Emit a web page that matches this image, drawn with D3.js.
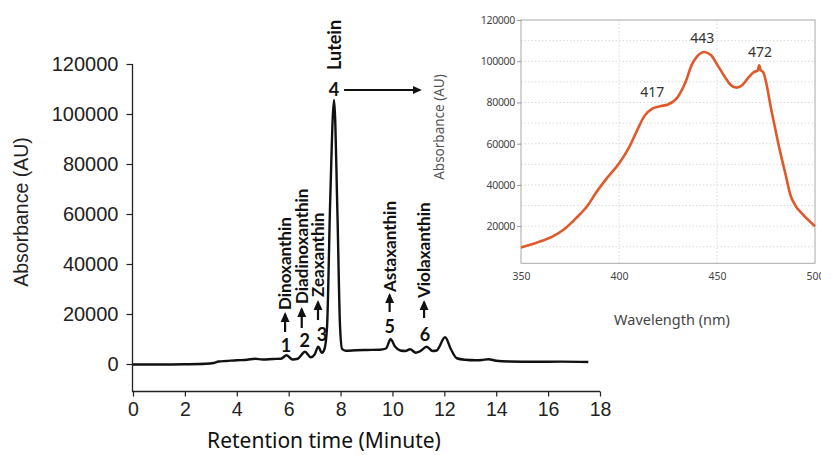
<!DOCTYPE html>
<html>
<head>
<meta charset="utf-8">
<script src="https://cdn.jsdelivr.net/npm/d3@7"></script>
<style>
  html, body { margin: 0; padding: 0; background: #ffffff; }
  svg { display: block; }
</style>
</head>
<body>
<svg id="chart" width="821" height="455"></svg>
<script>
// ---------- Data ----------
// Main chromatogram: retention time (min) and absorbance (AU)
const retentionTime = [0, 1, 2, 2.8, 3.1, 3.3, 3.6, 4.0, 4.4, 4.7, 5.0, 5.4, 5.7, 5.92, 6.15, 6.35, 6.63, 6.85, 7.0, 7.14, 7.28, 7.38, 7.48, 7.6, 7.75, 7.88, 7.98, 8.06, 8.2, 8.6, 9.0, 9.5, 9.75, 9.93, 10.1, 10.3, 10.5, 10.68, 10.9, 11.05, 11.32, 11.55, 11.7, 12.03, 12.25, 12.48, 12.8, 13.2, 13.45, 13.7, 14.0, 14.5, 15.5, 16.5, 17.55];
const absorbance    = [-200, -200, -100, 100, 400, 1000, 1200, 1500, 1700, 2100, 1800, 2000, 2100, 3500, 1800, 2100, 4900, 2700, 3800, 6900, 4500, 6000, 15000, 65000, 105600, 60000, 15000, 6000, 5300, 5500, 5600, 5700, 6200, 9900, 7000, 5400, 5200, 5900, 4500, 5000, 6900, 5200, 5400, 10700, 6000, 2300, 1700, 1500, 1600, 1900, 1300, 1000, 900, 950, 800];

// Peak annotations
const peakNumbers  = ["1", "2", "3", "4", "5", "6"];
const peakNames    = ["Dinoxanthin", "Diadinoxanthin", "Zeaxanthin", "Lutein", "Astaxanthin", "Violaxanthin"];
const peakTimes    = [5.92, 6.6, 7.15, 7.75, 9.93, 11.2];

// Main axis ticks
const xTicks = [0, 2, 4, 6, 8, 10, 12, 14, 16, 18];
const yTicks = [0, 20000, 40000, 60000, 80000, 100000, 120000];

// Inset: absorption spectrum of lutein
const wavelength = [350, 358, 366, 372, 378, 384, 388, 394, 400, 405, 409, 413, 417, 421, 425, 430, 434, 437, 440, 443.5, 447, 450, 454, 457, 460, 463, 466, 469, 470.8, 471.5, 472.3, 473.5, 478, 482, 485, 487.5, 490, 494, 500];
const spectrum   = [9700, 12000, 14900, 18500, 23800, 30000, 35900, 43500, 50400, 58000, 66000, 73500, 77000, 78200, 79000, 82700, 90000, 98000, 102500, 104500, 102900, 98500, 92400, 88500, 87200, 88500, 92000, 94800, 95500, 98000, 95600, 94800, 75000, 57000, 45000, 35000, 30000, 25500, 20000];
const spectrumPeaks = [417, 443, 472];
const insetXTicks = [350, 400, 450, 500];
const insetYTicks = [20000, 40000, 60000, 80000, 100000, 120000];

// ---------- Drawing ----------
const svg = d3.select("#chart");

// Main chart scales
const x = d3.scaleLinear().domain([0, 18]).range([133, 600]);
const y = d3.scaleLinear().domain([-11000, 120000]).range([391.5, 64]);

const axisFont = "'Liberation Sans', Arial, sans-serif";

// Y axis
const gy = svg.append("g").attr("transform", "translate(132.5,0)");
gy.call(d3.axisLeft(y).tickValues(d3.range(-10000, 120001, 10000)).tickSize(4).tickFormat(""))
  .call(g => g.select(".domain").remove());
gy.call(d3.axisLeft(y).tickValues(yTicks).tickSize(6).tickPadding(8).tickFormat(d3.format("d")).tickSizeOuter(0))
  .call(g => g.select(".domain").attr("stroke", "#222").attr("stroke-width", 1.3));
gy.selectAll("line").attr("stroke", "#222").attr("stroke-width", 1.2);
gy.selectAll("text").attr("font-family", axisFont).attr("font-size", 20).attr("fill", "#222");
gy.selectAll(".domain").attr("d", `M0,${y(-11000)}V${y(120000)}`);

// X axis
const gx = svg.append("g").attr("transform", `translate(0,${y(-11000)})`);
gx.call(d3.axisBottom(x).tickValues(d3.range(1, 18, 2)).tickSize(3).tickFormat(""))
  .call(g => g.select(".domain").remove());
gx.call(d3.axisBottom(x).tickValues(xTicks).tickSize(5).tickPadding(6).tickSizeOuter(0));
gx.select(".domain").attr("stroke", "#222").attr("stroke-width", 1.3).attr("d", `M${x(0) - 1},0H${x(18)}`);
gx.selectAll("line").attr("stroke", "#222").attr("stroke-width", 1.2);
gx.selectAll("text").attr("font-family", axisFont).attr("font-size", 19.5).attr("fill", "#222");

// Axis titles
svg.append("text")
  .attr("transform", `translate(28,212) rotate(-90)`)
  .attr("text-anchor", "middle")
  .attr("font-family", axisFont)
  .attr("font-size", 19.5)
  .attr("fill", "#222")
  .text("Absorbance (AU)");

svg.append("text")
  .attr("x", 324).attr("y", 448)
  .attr("text-anchor", "middle")
  .attr("font-family", "'Noto Sans', sans-serif")
  .attr("font-size", 21)
  .attr("fill", "#111")
  .text("Retention time (Minute)");

// Chromatogram line
const line = d3.line()
  .x((d, i) => x(retentionTime[i]))
  .y((d, i) => y(absorbance[i]))
  .curve(d3.curveMonotoneX);

svg.append("path")
  .datum(absorbance)
  .attr("fill", "none")
  .attr("stroke", "#111")
  .attr("stroke-width", 2.4)
  .attr("stroke-linejoin", "round")
  .attr("d", line);

// Peak annotations
const labelFont = "Lato, 'Open Sans', sans-serif";
const numY = [346, 341, 335, 90, 327, 335];
const arrowTop = [314, 309, 302, null, 295, 302];
const arrowBottom = [332, 328, 320, null, 312, 318];
const nameBottom = [310, 304, 297, null, 292, 298];
const labelDx = [-1.5, -2.5, -0.5, 0, -1, 0.5];
const labelX = peakTimes.map((t, i) => x(t) + labelDx[i]);

const defs = svg.append("defs");
defs.append("marker")
  .attr("id", "arrowhead")
  .attr("viewBox", "0 0 10 10")
  .attr("refX", 8).attr("refY", 5)
  .attr("markerWidth", 4.5).attr("markerHeight", 4.5)
  .attr("orient", "auto")
  .append("path").attr("d", "M0,0.5 L10,5 L0,9.5 z").attr("fill", "#111");

const numNudge = [1, 3, 4, 0, 0, 1];
peakNumbers.forEach((n, i) => {
  const cx = labelX[i];
  svg.append("text")
    .attr("x", cx + numNudge[i]).attr("y", numY[i])
    .attr("dy", "0.35em")
    .attr("text-anchor", "middle")
    .attr("font-family", labelFont)
    .attr("font-weight", "bold")
    .attr("font-size", 18)
    .attr("fill", "#111")
    .text(n);
  if (i === 3) {
    svg.append("text")
      .attr("transform", `translate(${cx + 7},70) rotate(-90)`)
      .attr("text-anchor", "start")
      .attr("font-family", labelFont)
      .attr("font-weight", "bold")
      .attr("font-size", 18)
      .attr("fill", "#111")
      .text(peakNames[i]);
    svg.append("line")
      .attr("x1", cx + 10).attr("y1", 90)
      .attr("x2", 420).attr("y2", 90)
      .attr("stroke", "#111").attr("stroke-width", 2)
      .attr("marker-end", "url(#arrowhead)");
  } else {
    svg.append("line")
      .attr("x1", cx).attr("y1", arrowBottom[i])
      .attr("x2", cx).attr("y2", arrowTop[i])
      .attr("stroke", "#111").attr("stroke-width", 2.2)
      .attr("marker-end", "url(#arrowhead)");
    svg.append("text")
      .attr("transform", `translate(${cx + 6},${nameBottom[i]}) rotate(-90)`)
      .attr("text-anchor", "start")
      .attr("font-family", labelFont)
      .attr("font-weight", "bold")
      .attr("font-size", 17)
      .attr("fill", "#111")
      .text(peakNames[i]);
  }
});

// ---------- Inset ----------
const xi = d3.scaleLinear().domain([350, 500]).range([521, 815]);
const yi = d3.scaleLinear().domain([2000, 120000]).range([263.3, 20]);
const inset = svg.append("g");
const insetFont = "'Noto Sans', 'Open Sans', sans-serif";

// gridlines
inset.append("g").selectAll("line")
  .data(d3.range(10000, 120000, 10000))
  .join("line")
  .attr("x1", xi(350)).attr("x2", xi(500))
  .attr("y1", d => yi(d)).attr("y2", d => yi(d))
  .attr("stroke", "#cfcfcf").attr("stroke-width", 0.8)
  .attr("stroke-dasharray", "1.5,2");
inset.append("g").selectAll("line")
  .data([400, 450])
  .join("line")
  .attr("x1", d => xi(d)).attr("x2", d => xi(d))
  .attr("y1", yi(2000)).attr("y2", yi(120000))
  .attr("stroke", "#cfcfcf").attr("stroke-width", 0.8)
  .attr("stroke-dasharray", "1.5,2");

// frame
inset.append("rect")
  .attr("x", xi(350)).attr("y", yi(120000))
  .attr("width", xi(500) - xi(350)).attr("height", yi(2000) - yi(120000))
  .attr("fill", "none").attr("stroke", "#a8a8a8").attr("stroke-width", 1);

// inset axes
const giy = inset.append("g").attr("transform", `translate(${xi(350)},0)`)
  .call(d3.axisLeft(yi).tickValues(insetYTicks).tickSize(4).tickPadding(2).tickFormat(d3.format("d")).tickSizeOuter(0));
giy.select(".domain").remove();
giy.selectAll("line").attr("stroke", "#999");
giy.selectAll("text").attr("font-family", insetFont).attr("font-size", 10.5).attr("fill", "#444").attr("letter-spacing", -0.3);

const gix = inset.append("g").attr("transform", `translate(0,${yi(2000)})`)
  .call(d3.axisBottom(xi).tickValues(insetXTicks).tickSize(0).tickPadding(9).tickFormat(d3.format("d")));
gix.select(".domain").remove();
gix.selectAll("text").attr("font-family", insetFont).attr("font-size", 10.5).attr("fill", "#444");

inset.append("text")
  .attr("transform", `translate(444,127) rotate(-90)`)
  .attr("text-anchor", "middle")
  .attr("font-family", insetFont)
  .attr("font-size", 13.5)
  .attr("fill", "#555")
  .text("Absorbance (AU)");

inset.append("text")
  .attr("x", 672).attr("y", 325)
  .attr("text-anchor", "middle")
  .attr("font-family", insetFont)
  .attr("font-size", 14.5)
  .attr("fill", "#444")
  .text("Wavelength (nm)");

// spectrum line
const specLine = d3.line()
  .x((d, i) => xi(wavelength[i]))
  .y((d, i) => yi(spectrum[i]))
  .curve(d3.curveMonotoneX);

inset.append("path")
  .datum(spectrum)
  .attr("fill", "none")
  .attr("stroke", "#e0592b")
  .attr("stroke-width", 2.6)
  .attr("stroke-linejoin", "round")
  .attr("d", specLine);

// peak labels
const peakLabelY = [92, 38, 52];
const peakLabelDx = [0, -1, 0];
spectrumPeaks.forEach((p, i) => {
  inset.append("text")
    .attr("x", xi(p) + peakLabelDx[i]).attr("y", peakLabelY[i])
    .attr("dy", "0.35em")
    .attr("text-anchor", "middle")
    .attr("font-family", insetFont)
    .attr("font-size", 14)
    .attr("fill", "#333")
    .text(String(p));
});
</script>
</body>
</html>
